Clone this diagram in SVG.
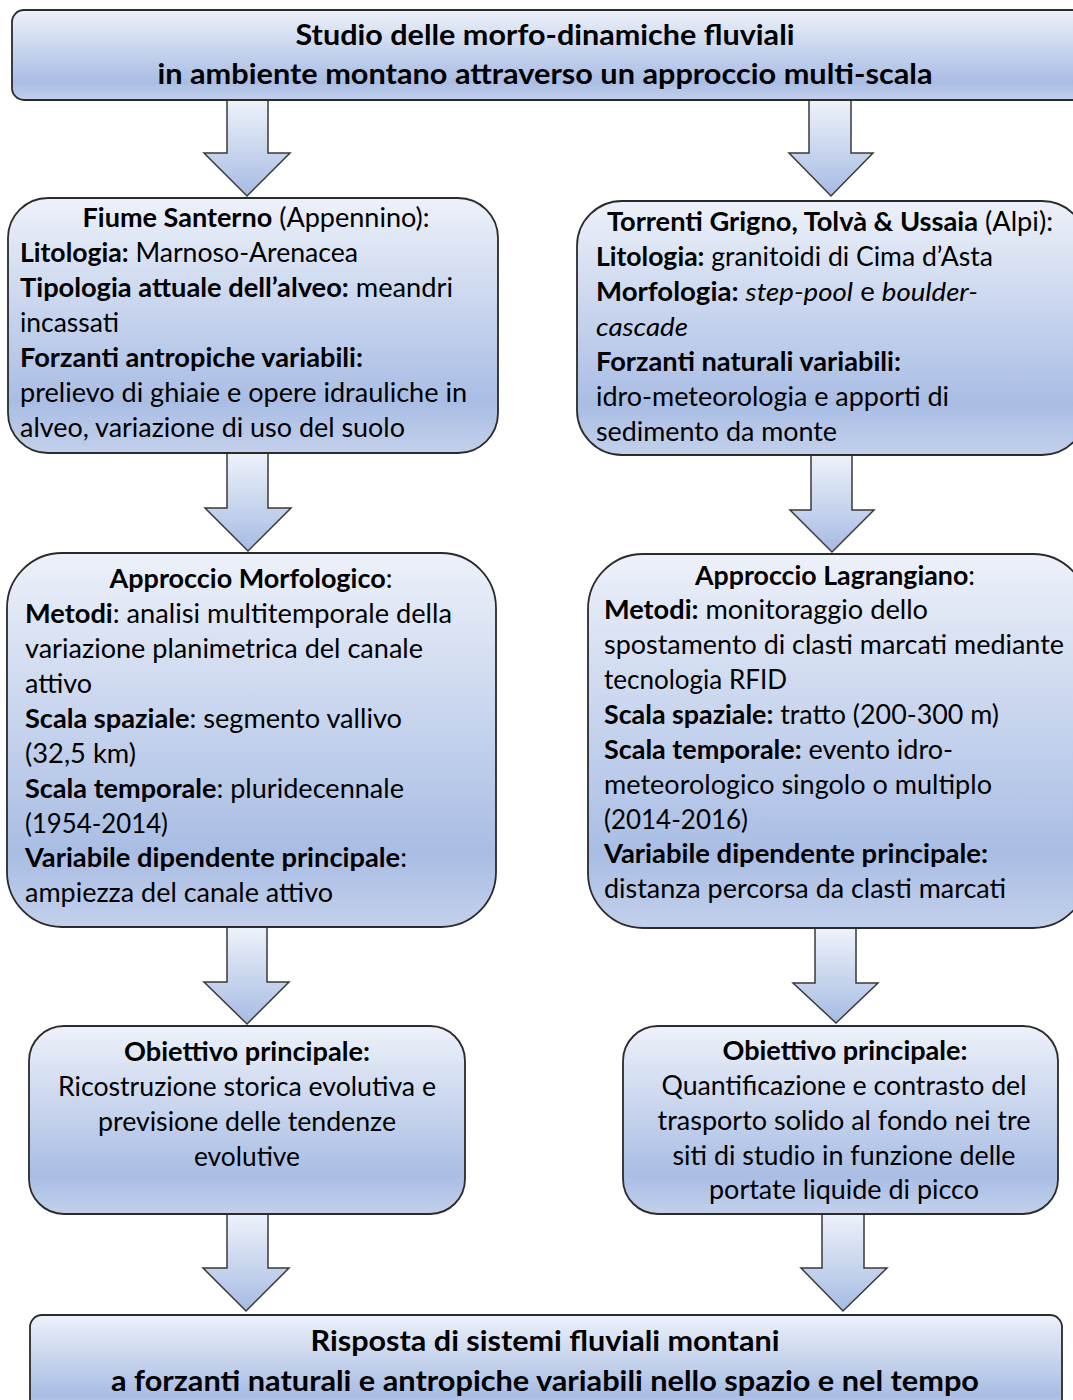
<svg xmlns="http://www.w3.org/2000/svg" width="1073" height="1400" viewBox="0 0 1073 1400">
<defs>
<linearGradient id="gBox" x1="0" y1="0" x2="0" y2="1">
<stop offset="0" stop-color="#edf1f9"/>
<stop offset="0.8" stop-color="#a9bde4"/>
<stop offset="1" stop-color="#c3d0eb"/>
</linearGradient>
<linearGradient id="gArr" x1="0" y1="0" x2="0" y2="1">
<stop offset="0" stop-color="#eef2fa"/>
<stop offset="1" stop-color="#a6bbe3"/>
</linearGradient>
<style>
.box{fill:url(#gBox);stroke:#2b2b2b;stroke-width:1.8}
.arr{fill:url(#gArr);stroke:#3a3a3a;stroke-width:1.5;stroke-linejoin:miter}
text{font-family:Lato,"Open Sans","Liberation Sans",sans-serif;font-size:26px;fill:#000}
.b{font-weight:bold}
.t{font-weight:bold;font-size:28px}
.c{text-anchor:middle}
.i{font-style:italic}
</style>
</defs>

<g id="connectors">
<path class="arr" d="M227,100 L268,100 L268,153 L290,153 L247,196 L204,153 L227,153 Z"/>
<path class="arr" d="M809,100 L851,100 L851,153 L873,153 L831,196 L789,153 L809,153 Z"/>
<path class="arr" d="M227,453 L268,453 L268,508 L291,508 L248,551 L205,508 L227,508 Z"/>
<path class="arr" d="M811,455 L852,455 L852,510 L874,510 L832,552 L790,510 L811,510 Z"/>
<path class="arr" d="M227,927 L267,927 L267,982 L289,982 L247,1024 L204,982 L227,982 Z"/>
<path class="arr" d="M815,928 L856,928 L856,983 L878,983 L836,1023 L793,983 L815,983 Z"/>
<path class="arr" d="M227,1214 L268,1214 L268,1268 L289,1268 L246,1311 L203,1268 L227,1268 Z"/>
<path class="arr" d="M822,1214 L864,1214 L864,1268 L887,1268 L843,1311 L801,1268 L822,1268 Z"/>
</g>

<g id="n_title">
<rect class="box" x="12" y="10" width="1080" height="90" rx="12"/>
<text class="t c" x="545" y="45" textLength="499" lengthAdjust="spacingAndGlyphs">Studio delle morfo-dinamiche fluviali</text>
<text class="t c" x="545" y="84" textLength="775" lengthAdjust="spacingAndGlyphs">in ambiente montano attraverso un approccio multi-scala</text>
</g>

<g id="n_santerno">
<rect class="box" x="8" y="198" width="490" height="255" rx="40"/>
<text class="c" x="256" y="227" textLength="347" lengthAdjust="spacingAndGlyphs"><tspan class="b">Fiume Santerno</tspan> (Appennino):</text>
<text x="20" y="262" textLength="338" lengthAdjust="spacingAndGlyphs"><tspan class="b">Litologia:</tspan> Marnoso-Arenacea</text>
<text x="20" y="297" textLength="433" lengthAdjust="spacingAndGlyphs"><tspan class="b">Tipologia attuale dell’alveo:</tspan> meandri</text>
<text x="20" y="332" textLength="99" lengthAdjust="spacingAndGlyphs">incassati</text>
<text x="20" y="367" class="b" textLength="343" lengthAdjust="spacingAndGlyphs">Forzanti antropiche variabili:</text>
<text x="20" y="402" textLength="447" lengthAdjust="spacingAndGlyphs">prelievo di ghiaie e opere idrauliche in</text>
<text x="20" y="437" textLength="385" lengthAdjust="spacingAndGlyphs">alveo, variazione di uso del suolo</text>
</g>

<g id="n_torrenti">
<rect class="box" x="577" y="201" width="510" height="254" rx="45"/>
<text class="c" x="830" y="231" textLength="446" lengthAdjust="spacingAndGlyphs"><tspan class="b">Torrenti Grigno, Tolvà &amp; Ussaia</tspan> (Alpi):</text>
<text x="596" y="266" textLength="397" lengthAdjust="spacingAndGlyphs"><tspan class="b">Litologia:</tspan> granitoidi di Cima d’Asta</text>
<text x="596" y="301" textLength="382" lengthAdjust="spacingAndGlyphs"><tspan class="b">Morfologia:</tspan> <tspan class="i">step-pool</tspan> e <tspan class="i">boulder-</tspan></text>
<text x="596" y="336" class="i" textLength="92" lengthAdjust="spacingAndGlyphs">cascade</text>
<text x="596" y="371" class="b" textLength="305" lengthAdjust="spacingAndGlyphs">Forzanti naturali variabili:</text>
<text x="596" y="406" textLength="353" lengthAdjust="spacingAndGlyphs">idro-meteorologia  e apporti di</text>
<text x="596" y="441" textLength="241" lengthAdjust="spacingAndGlyphs">sedimento da monte</text>
</g>

<g id="n_morfologico">
<rect class="box" x="7" y="553" width="489" height="374" rx="55"/>
<text class="c" x="251" y="588" textLength="283" lengthAdjust="spacingAndGlyphs"><tspan class="b">Approccio Morfologico</tspan>:</text>
<text x="25" y="623" textLength="427" lengthAdjust="spacingAndGlyphs"><tspan class="b">Metodi</tspan>: analisi multitemporale della</text>
<text x="25" y="658" textLength="398" lengthAdjust="spacingAndGlyphs">variazione planimetrica del canale</text>
<text x="25" y="693" textLength="67" lengthAdjust="spacingAndGlyphs">attivo</text>
<text x="25" y="728" textLength="377" lengthAdjust="spacingAndGlyphs"><tspan class="b">Scala spaziale</tspan>: segmento vallivo</text>
<text x="25" y="763" textLength="111" lengthAdjust="spacingAndGlyphs">(32,5 km)</text>
<text x="25" y="798" textLength="379" lengthAdjust="spacingAndGlyphs"><tspan class="b">Scala temporale</tspan>: pluridecennale</text>
<text x="25" y="833" textLength="143" lengthAdjust="spacingAndGlyphs">(1954-2014)</text>
<text x="25" y="867" textLength="382" lengthAdjust="spacingAndGlyphs"><tspan class="b">Variabile dipendente principale</tspan>:</text>
<text x="25" y="902" textLength="308" lengthAdjust="spacingAndGlyphs">ampiezza del canale attivo</text>
</g>

<g id="n_lagrangiano">
<rect class="box" x="588" y="554" width="500" height="374" rx="55"/>
<text class="c" x="835" y="585" textLength="280" lengthAdjust="spacingAndGlyphs"><tspan class="b">Approccio Lagrangiano</tspan>:</text>
<text x="604" y="619" textLength="324" lengthAdjust="spacingAndGlyphs"><tspan class="b">Metodi:</tspan> monitoraggio dello</text>
<text x="604" y="654" textLength="460" lengthAdjust="spacingAndGlyphs">spostamento di clasti marcati mediante</text>
<text x="604" y="689" textLength="183" lengthAdjust="spacingAndGlyphs">tecnologia RFID</text>
<text x="604" y="724" textLength="395" lengthAdjust="spacingAndGlyphs"><tspan class="b">Scala spaziale:</tspan> tratto (200-300 m)</text>
<text x="604" y="759" textLength="349" lengthAdjust="spacingAndGlyphs"><tspan class="b">Scala temporale:</tspan> evento idro-</text>
<text x="604" y="794" textLength="388" lengthAdjust="spacingAndGlyphs">meteorologico singolo o multiplo</text>
<text x="604" y="829" textLength="144" lengthAdjust="spacingAndGlyphs">(2014-2016)</text>
<text x="604" y="863" class="b" textLength="384" lengthAdjust="spacingAndGlyphs">Variabile dipendente principale:</text>
<text x="604" y="898" textLength="402" lengthAdjust="spacingAndGlyphs">distanza percorsa da clasti marcati</text>
</g>

<g id="n_obiettivo_sx">
<rect class="box" x="29" y="1026" width="436" height="188" rx="35"/>
<text class="c b" x="247" y="1061" textLength="246" lengthAdjust="spacingAndGlyphs">Obiettivo principale:</text>
<text class="c" x="247" y="1096" textLength="378" lengthAdjust="spacingAndGlyphs">Ricostruzione storica evolutiva e</text>
<text class="c" x="247" y="1131" textLength="298" lengthAdjust="spacingAndGlyphs">previsione delle tendenze</text>
<text class="c" x="247" y="1166" textLength="106" lengthAdjust="spacingAndGlyphs">evolutive</text>
</g>

<g id="n_obiettivo_dx">
<rect class="box" x="623" y="1026" width="435" height="188" rx="35"/>
<text class="c b" x="845" y="1060" textLength="245" lengthAdjust="spacingAndGlyphs">Obiettivo principale:</text>
<text class="c" x="844" y="1095" textLength="365" lengthAdjust="spacingAndGlyphs">Quantificazione e contrasto del</text>
<text class="c" x="844" y="1130" textLength="373" lengthAdjust="spacingAndGlyphs">trasporto solido al fondo nei tre</text>
<text class="c" x="844" y="1165" textLength="343" lengthAdjust="spacingAndGlyphs">siti di studio in funzione delle</text>
<text class="c" x="844" y="1199" textLength="270" lengthAdjust="spacingAndGlyphs">portate liquide di picco</text>
</g>

<g id="n_risposta">
<rect class="box" x="30" y="1315" width="1032" height="100" rx="12"/>
<text class="t c" x="545" y="1351" textLength="469" lengthAdjust="spacingAndGlyphs">Risposta di sistemi fluviali montani</text>
<text class="t c" x="545" y="1391" textLength="868" lengthAdjust="spacingAndGlyphs">a forzanti naturali e antropiche variabili nello spazio e nel tempo</text>
</g>
</svg>
